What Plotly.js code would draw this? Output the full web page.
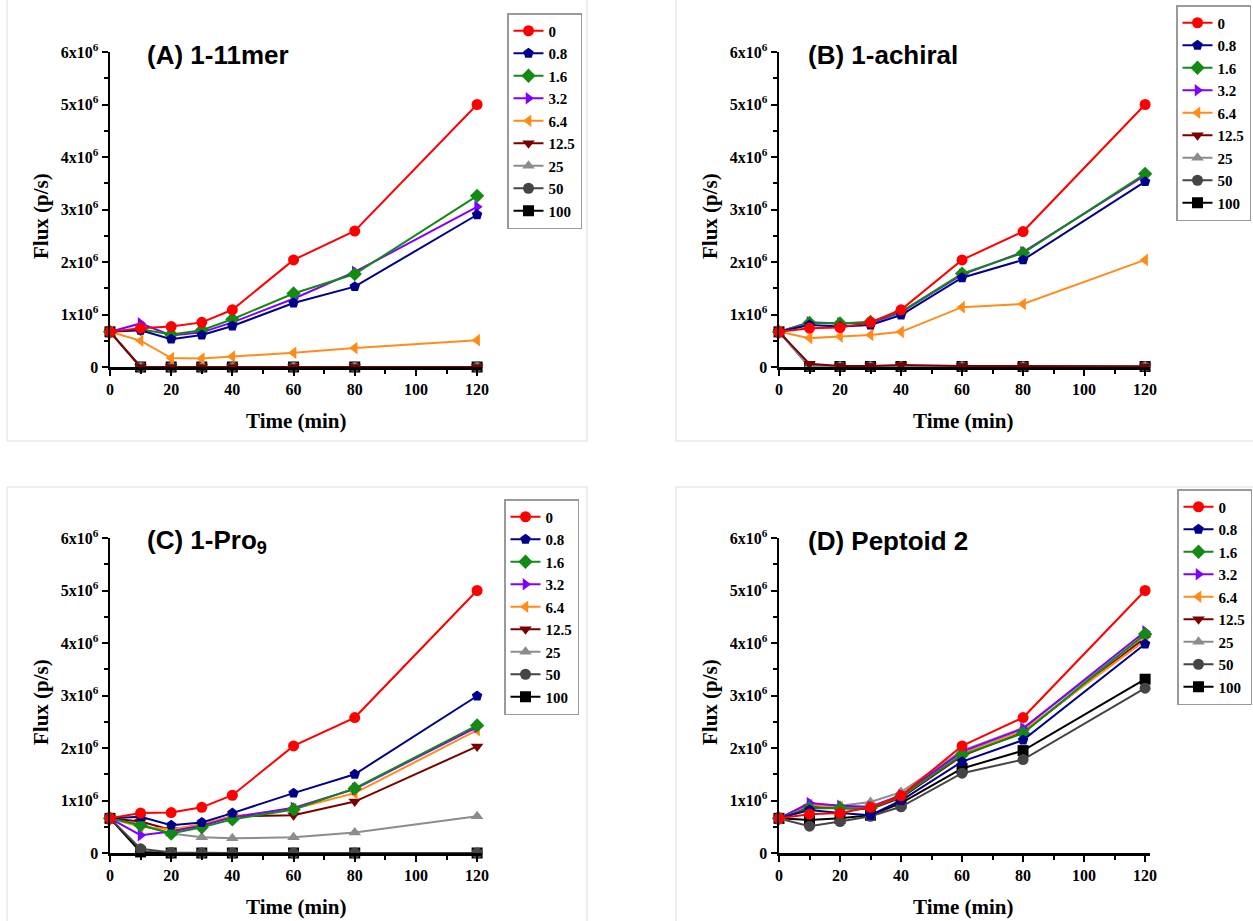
<!DOCTYPE html>
<html>
<head>
<meta charset="utf-8">
<script src="https://cdn.plot.ly/plotly-3.0.1.min.js"></script>
<style>
  html, body { margin: 0; padding: 0; background: #fff; }
  #chart { width: 1253px; height: 921px; }
</style>
</head>
<body>
<div id="chart"></div>
<script>
// ---------- DATA ----------
const times = [0, 10, 20, 30, 40, 60, 80, 120];            // Time (min)
const concentrations = ['0', '0.8', '1.6', '3.2', '6.4', '12.5', '25', '50', '100'];
const panelTitles = ['(A) 1-11mer', '(B) 1-achiral', '(C) 1-Pro<sub>9</sub>', '(D) Peptoid 2'];
const yTickValues = [0, 1, 2, 3, 4, 5, 6];                  // flux in units of 10^6 p/s
const yTickLabels = ['0', '1x10<sup>6</sup>', '2x10<sup>6</sup>', '3x10<sup>6</sup>', '4x10<sup>6</sup>', '5x10<sup>6</sup>', '6x10<sup>6</sup>'];
const xTickValues = [0, 20, 40, 60, 80, 100, 120];

// Flux (x10^6 p/s), one row per concentration, in the order of `concentrations`
const fluxA = [
  [0.67, 0.74, 0.77, 0.85, 1.09, 2.04, 2.59, 5.00],
  [0.67, 0.70, 0.53, 0.61, 0.78, 1.22, 1.53, 2.90],
  [0.67, 0.72, 0.62, 0.70, 0.91, 1.40, 1.77, 3.26],
  [0.67, 0.83, 0.60, 0.66, 0.85, 1.30, 1.81, 3.05],
  [0.67, 0.50, 0.17, 0.16, 0.20, 0.27, 0.36, 0.51],
  [0.67, 0.00, 0.00, 0.00, 0.00, 0.00, 0.00, 0.00],
  [0.67, 0.00, 0.00, 0.00, 0.00, 0.00, 0.00, 0.00],
  [0.67, 0.00, 0.00, 0.00, 0.00, 0.00, 0.00, 0.00],
  [0.67, 0.00, 0.00, 0.00, 0.00, 0.00, 0.00, 0.00]
];
const fluxB = [
  [0.67, 0.74, 0.75, 0.85, 1.09, 2.04, 2.58, 5.00],
  [0.67, 0.80, 0.77, 0.80, 0.99, 1.70, 2.04, 3.53],
  [0.67, 0.84, 0.83, 0.86, 1.05, 1.78, 2.17, 3.68],
  [0.67, 0.85, 0.83, 0.84, 1.04, 1.76, 2.19, 3.65],
  [0.67, 0.55, 0.58, 0.61, 0.67, 1.14, 1.20, 2.04],
  [0.67, 0.06, 0.02, 0.02, 0.04, 0.02, 0.02, 0.01],
  [0.67, 0.01, 0.01, 0.01, 0.01, 0.01, 0.01, 0.01],
  [0.67, 0.01, 0.01, 0.01, 0.01, 0.01, 0.01, 0.01],
  [0.67, 0.01, 0.01, 0.01, 0.01, 0.01, 0.01, 0.01]
];
const fluxC = [
  [0.66, 0.76, 0.77, 0.87, 1.10, 2.04, 2.58, 5.00],
  [0.66, 0.69, 0.53, 0.58, 0.76, 1.14, 1.50, 2.99],
  [0.66, 0.53, 0.37, 0.49, 0.64, 0.83, 1.23, 2.43],
  [0.66, 0.34, 0.41, 0.52, 0.68, 0.86, 1.22, 2.40],
  [0.66, 0.50, 0.45, 0.55, 0.70, 0.84, 1.14, 2.34],
  [0.66, 0.60, 0.44, 0.54, 0.70, 0.72, 0.98, 2.03],
  [0.66, 0.55, 0.37, 0.30, 0.28, 0.30, 0.39, 0.70],
  [0.66, 0.08, 0.01, 0.00, 0.00, 0.00, 0.00, 0.00],
  [0.66, 0.02, 0.00, 0.00, 0.00, 0.00, 0.00, 0.00]
];
const fluxD = [
  [0.66, 0.74, 0.76, 0.87, 1.09, 2.04, 2.58, 5.00],
  [0.66, 0.82, 0.76, 0.72, 1.00, 1.74, 2.15, 3.98],
  [0.66, 0.85, 0.85, 0.85, 1.07, 1.87, 2.28, 4.17],
  [0.66, 0.95, 0.90, 0.88, 1.10, 1.93, 2.37, 4.22],
  [0.66, 0.92, 0.88, 0.86, 1.08, 1.90, 2.33, 4.05],
  [0.66, 0.88, 0.85, 0.84, 1.05, 1.85, 2.30, 4.10],
  [0.66, 0.93, 0.90, 0.97, 1.16, 1.95, 2.38, 4.15],
  [0.66, 0.51, 0.60, 0.70, 0.88, 1.52, 1.78, 3.14],
  [0.66, 0.63, 0.66, 0.72, 0.95, 1.61, 1.95, 3.31]
];

// ---------- STYLE ----------
const colors  = ['#FF0000', '#00008B', '#138A13', '#8000FF', '#FF8C1A', '#7A0000', '#8C8C8C', '#454545', '#000000'];
const symbols = ['circle', 'pentagon', 'diamond', 'triangle-right', 'triangle-left', 'triangle-down', 'triangle-up', 'circle', 'square'];

const W = 1253, H = 921;
const px = v => v / W;
const py = v => 1 - v / H;

// panel geometry (pixels)
const panels = [
  { data: fluxA, x0: 110, x1: 482, yTop: 52,  yBot: 367, leg: [507, 13],  title: [145, 55], xt: [296, 421], yt: [41, 216], box: [7, -2, 587, 441] },
  { data: fluxB, x0: 779, x1: 1150, yTop: 52, yBot: 367, leg: [1176, 5], title: [806, 55], xt: [963, 421], yt: [710, 216], box: [676, -2, 1260, 441] },
  { data: fluxC, x0: 110, x1: 482, yTop: 538, yBot: 853, leg: [504, 499], title: [145, 541], xt: [296, 907], yt: [41, 702], box: [7, 487, 587, 930] },
  { data: fluxD, x0: 779, x1: 1150, yTop: 538, yBot: 853, leg: [1177, 489], title: [806, 541], xt: [963, 907], yt: [710, 702], box: [676, 487, 1260, 930] }
];

const serifFamily = 'Liberation Serif, Times New Roman, serif';
const tickFont = { family: serifFamily, size: 16, color: '#000', weight: 'bold' };

const traces = [];
const layout = {
  width: W, height: H,
  margin: { l: 0, r: 0, t: 0, b: 0 },
  paper_bgcolor: '#fff', plot_bgcolor: 'rgba(0,0,0,0)',
  showlegend: true,
  annotations: [],
  shapes: []
};

panels.forEach((p, k) => {
  const sfx = k === 0 ? '' : String(k + 1);
  const legName = 'legend' + sfx;
  // draw in reverse order (lowest concentration on top), legend in natural order
  for (let i = concentrations.length - 1; i >= 0; i--) {
    traces.push({
      type: 'scatter', mode: 'lines+markers',
      x: times, y: p.data[i],
      name: concentrations[i],
      legend: legName,
      legendrank: i + 1,
      xaxis: 'x' + sfx, yaxis: 'y' + sfx,
      cliponaxis: false,
      line: { color: colors[i], width: 2 },
      marker: { color: colors[i], symbol: symbols[i], size: 11, line: { width: 0 } }
    });
  }
  layout['xaxis' + sfx] = {
    domain: [px(p.x0), px(p.x1)], range: [0, 121.6], anchor: 'y' + sfx,
    showline: true, linecolor: '#000', linewidth: 2.5, mirror: false,
    showgrid: false, zeroline: false,
    ticks: 'outside', ticklen: 6, tickwidth: 2, tickcolor: '#000',
    tickmode: 'array', tickvals: xTickValues,
    tickfont: tickFont,
    minor: { ticks: 'outside', dtick: 10, tick0: 0, ticklen: 4, tickwidth: 2, tickcolor: '#000', showgrid: false }
  };
  layout['yaxis' + sfx] = {
    domain: [py(p.yBot), py(p.yTop)], range: [0, 6], anchor: 'x' + sfx,
    showline: true, linecolor: '#000', linewidth: 2.5,
    showgrid: false, zeroline: false,
    ticks: 'outside', ticklen: 6, tickwidth: 2, tickcolor: '#000',
    tickmode: 'array', tickvals: yTickValues, ticktext: yTickLabels,
    tickfont: tickFont,
    minor: { ticks: 'outside', dtick: 0.5, tick0: 0, ticklen: 4, tickwidth: 2, tickcolor: '#000', showgrid: false }
  };
  layout[legName] = {
    x: px(p.leg[0]), y: py(p.leg[1]), xanchor: 'left', yanchor: 'top',
    xref: 'paper', yref: 'paper',
    bgcolor: '#fff', bordercolor: '#9a9a9a', borderwidth: 1.5,
    font: { family: serifFamily, size: 15, color: '#000', weight: 'bold' },
    traceorder: 'normal', tracegroupgap: 0, itemwidth: 30
  };
  // panel title
  layout.annotations.push({
    xref: 'paper', yref: 'paper', x: px(p.title[0]), y: py(p.title[1]),
    xanchor: 'left', yanchor: 'middle', showarrow: false,
    text: '<b>' + panelTitles[k] + '</b>',
    font: { family: 'Liberation Sans, Arial, sans-serif', size: 26, color: '#000' }
  });
  // x axis title
  layout.annotations.push({
    xref: 'paper', yref: 'paper', x: px(p.xt[0]), y: py(p.xt[1]),
    xanchor: 'center', yanchor: 'middle', showarrow: false,
    text: 'Time (min)', font: { family: serifFamily, size: 21, color: '#000', weight: 'bold' }
  });
  // y axis title
  layout.annotations.push({
    xref: 'paper', yref: 'paper', x: px(p.yt[0]), y: py(p.yt[1]),
    xanchor: 'center', yanchor: 'middle', showarrow: false, textangle: -90,
    text: 'Flux (p/s)', font: { family: serifFamily, size: 21, color: '#000', weight: 'bold' }
  });
  // faint panel frame
  layout.shapes.push({
    type: 'rect', xref: 'paper', yref: 'paper',
    x0: px(p.box[0]), x1: px(p.box[2]), y0: py(p.box[3]), y1: py(p.box[1]),
    line: { color: '#dddddd', width: 1 }, layer: 'below'
  });
});

Plotly.newPlot('chart', traces, layout, { displayModeBar: false, staticPlot: true });
</script>
</body>
</html>
